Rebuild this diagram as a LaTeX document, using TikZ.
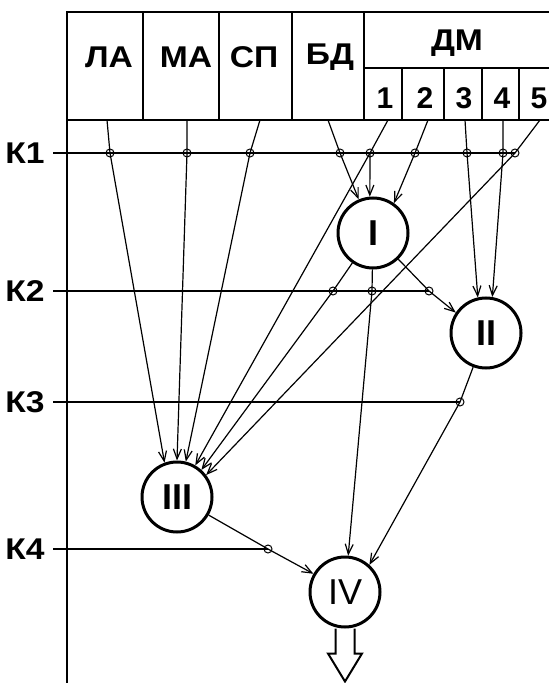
\documentclass[tikz,border=0pt]{standalone}
\usepackage{fontspec}
\setmainfont{Liberation Sans}
\newfontfamily\widefont[FakeStretch=1.12]{Liberation Sans}
\usetikzlibrary{arrows.meta}

\begin{document}
\begin{tikzpicture}[x=0.5pt,y=-0.5pt]
        \tikzstyle{blk}=[circle,draw,line width=1.5pt,minimum size=35pt,inner sep=0pt,font=\fontsize{18}{20}\selectfont\bfseries]
        \tikzstyle{tap}=[circle,draw,line width=0.5pt,minimum size=4pt,inner sep=0pt]
        \tikzstyle{lbl}=[font=\fontsize{15}{17}\selectfont\bfseries]
        \tikzstyle{hdr}=[font=\widefont\fontsize{15}{17}\selectfont\bfseries]
        \tikzstyle{klbl}=[font=\widefont\fontsize{15}{17}\selectfont\bfseries,anchor=east,inner sep=0pt]
        \tikzstyle{sig}=[line width=0.6pt,-{Straight Barb[length=5pt,width=4pt]}]
        \tikzstyle{bus}=[line width=1pt]
        \useasboundingbox (0,0) rectangle (549,683);
        \draw[bus] (67,683) -- (67,12) -- (549,12) (67,120) -- (549,120) (364,68) -- (549,68);
        \foreach \x in {143,219,292,364} \draw[bus] (\x,12) -- (\x,120);
        \foreach \x in {402,444,482,519} \draw[bus] (\x,68) -- (\x,120);
        \node[hdr] (la) at (109,57) {ЛА};
        \node[hdr] (ma) at (186,57) {МА};
        \node[hdr] (sp) at (254,57) {СП};
        \node[hdr] (bd) at (330,57) {БД};
        \node[hdr] (dm) at (457,43) {ДМ};
        \foreach \n/\x in {1/385,2/425,3/464,4/502,5/539} \node[lbl] (d\n) at (\x,98) {\n};
        \foreach \n/\x in {la/107,ma/187,sp/260,bd/328,1/388,2/428,3/465,4/503,5/540} \coordinate (s\n) at (\x,120);
        \node[blk] (I) at (373,233) {I};
        \node[blk] (II) at (486,333) {II};
        \node[blk] (III) at (177,497) {III};
        \node[blk,font=\fontsize{18}{20}\selectfont] (IV) at (345,592) {IV};
        \foreach \k/\y in {1/153,2/291,3/402,4/549} \node[klbl] (K\k) at (45,\y) {К\k};
        \foreach \n/\x in {a/110,b/187,c/250,d/340,e/370,f/415,g/467,h/503,i/515} \node[tap] (k1\n) at (\x,153) {};
        \foreach \n/\x in {a/333,b/372,c/429} \node[tap] (k2\n) at (\x,291) {};
        \node[tap] (k3a) at (460,402) {};
        \node[tap] (k4a) at (268,549) {};
        \draw[bus] ([xshift=4pt]K1.east) -- (k1i.center);
        \draw[bus] ([xshift=4pt]K2.east) -- (k2c.center);
        \draw[bus] ([xshift=4pt]K3.east) -- (k3a.center);
        \draw[bus] ([xshift=4pt]K4.east) -- (k4a.center);
        \draw[sig] (sla) -- (k1a.center) -- (III.110);
        \draw[sig] (sma) -- (k1b.center) -- (III.90);
        \draw[sig] (ssp) -- (k1c.center) -- (III.76);
        \draw[sig] (sbd) -- (k1d.center) -- (I.113);
        \draw[sig] (s1) -- (k1e.center) -- (I.95);
        \draw[sig] (k1e.center) -- (III.60);
        \draw[sig] (s2) -- (k1f.center) -- (I.55);
        \draw[sig] (s3) -- (k1g.center) -- (II.103);
        \draw[sig] (s4) -- (k1h.center) -- (II.80);
        \draw[sig] (s5) -- (k1i.center) -- (III.37);
        \draw[sig] (I) -- (k2a.center) -- (III.48);
        \draw[sig] (I) -- (k2b.center) -- (IV.85);
        \draw[sig] (I) -- (k2c.center) -- (II.146);
        \draw[sig] (II) -- (k3a.center) -- (IV.48);
        \draw[sig] (III) -- (k4a.center) -- (IV.150);
        \coordinate (out) at ([yshift=-26.5pt]IV.south);
        \draw[bus] ([xshift=-4.75pt]IV.south) |- ([xshift=-8.5pt,yshift=-12.5pt]IV.south) -- (out)
            -- ([xshift=8.5pt,yshift=-12.5pt]IV.south) -| ([xshift=4.75pt]IV.south);
\end{tikzpicture}
\end{document}
